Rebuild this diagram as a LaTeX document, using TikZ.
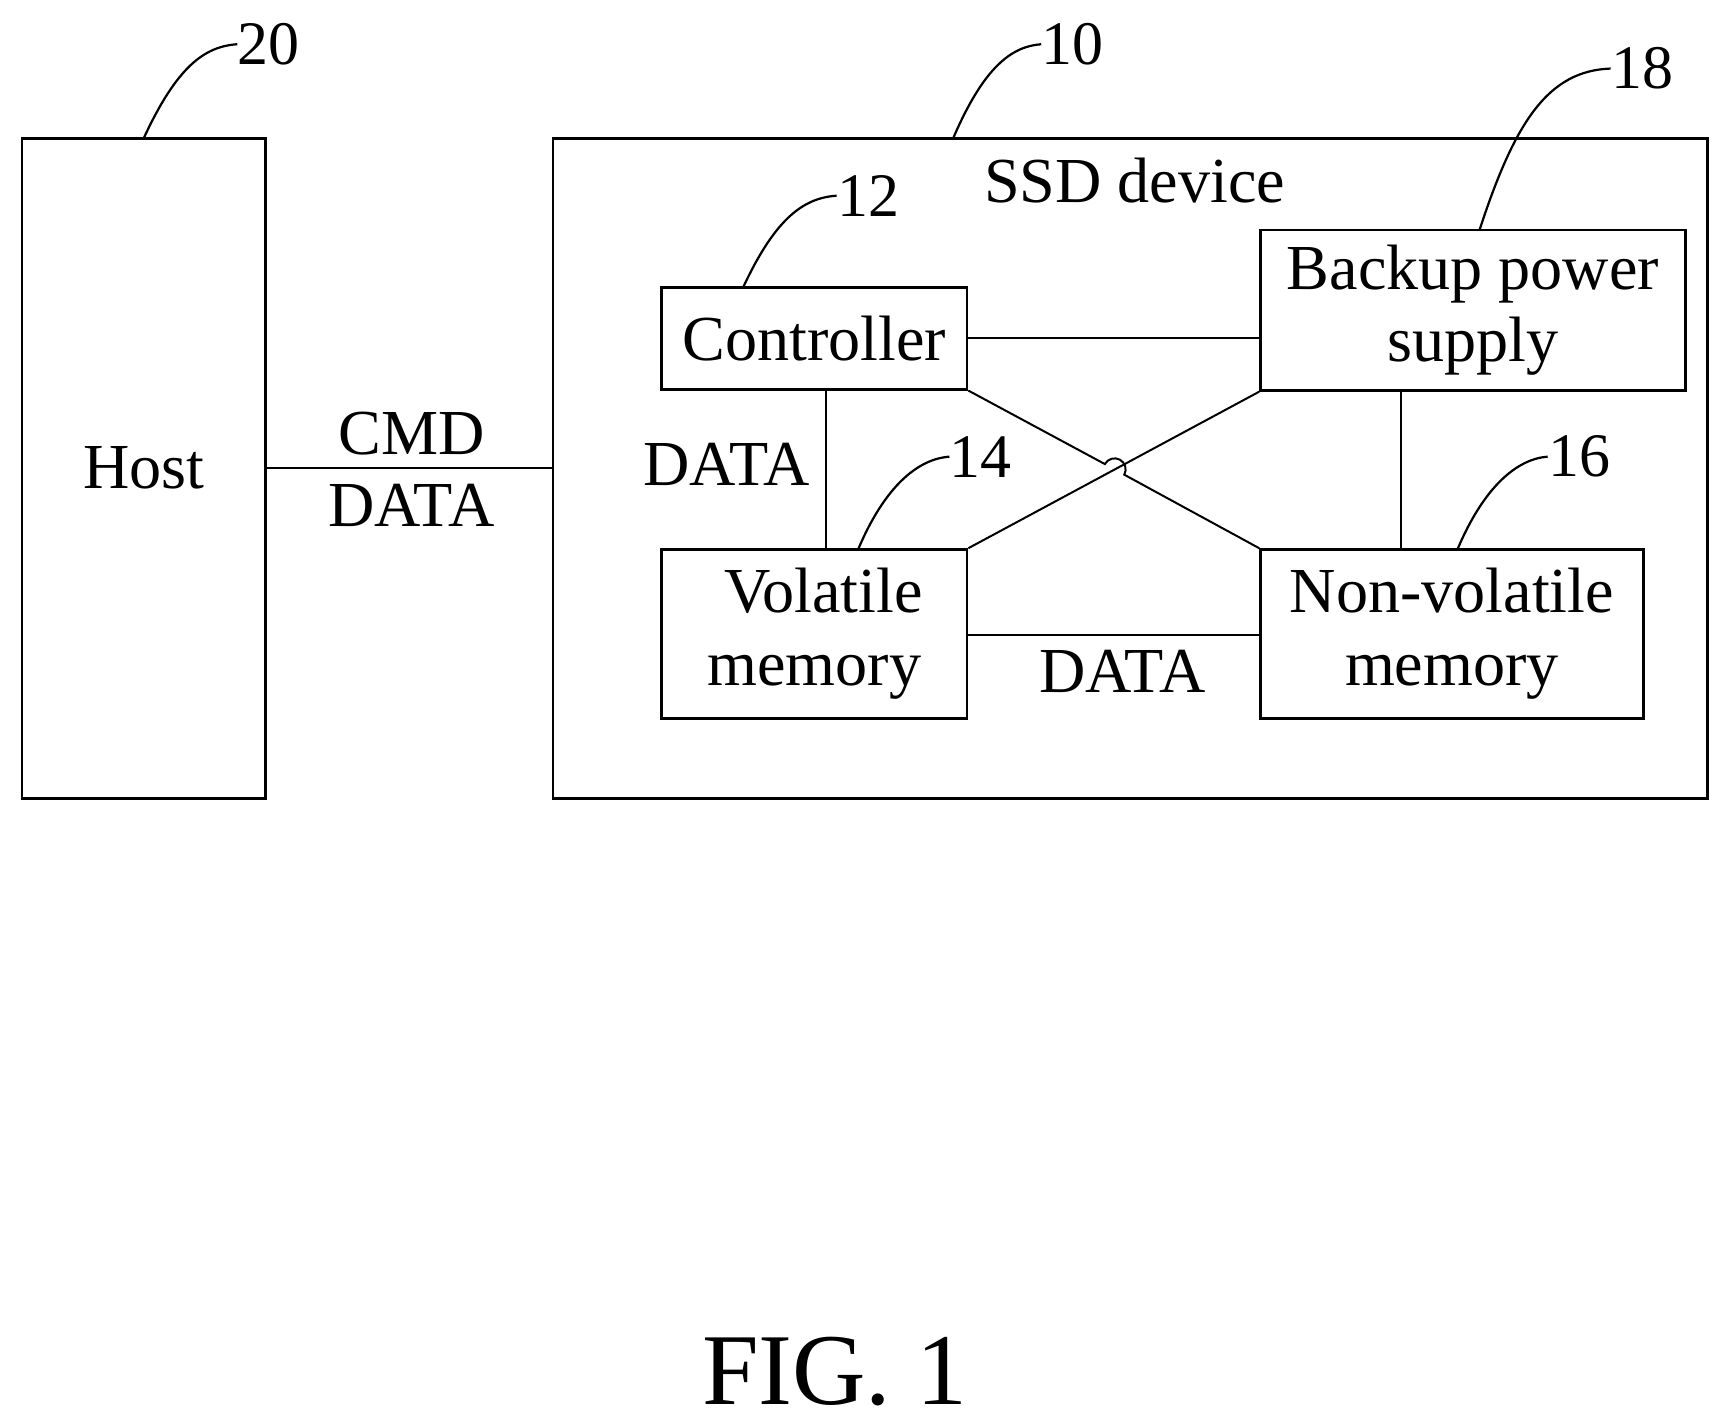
\documentclass[tikz,border=0pt]{standalone}
\usepackage{fontspec}
\setmainfont{Liberation Serif}
\begin{document}
\begin{tikzpicture}[x=0.5pt,y=-0.5pt,
  box/.style={draw,line width=1.2pt,inner sep=0pt,align=center,font=\fontsize{29}{33}\selectfont},
  txt/.style={font=\fontsize{29}{33}\selectfont,inner sep=0pt},
  num/.style={font=\fontsize{28}{30}\selectfont,inner sep=0pt},
  ln/.style={line width=0.9pt},
  lead/.style={line width=1pt}]
\useasboundingbox (0,0) rectangle (1560,1288);
\node[box,minimum width=110pt,minimum height=298.5pt] (host) at (130,423.5) {Host};
\node[box,minimum width=522pt,minimum height=298.5pt] (ssd) at (1022,423.5) {};
\node[txt] (ssdl) at (1026,163) {SSD device};
\node[box,minimum width=138pt,minimum height=46pt] (ctrl) at (736.5,306) {Controller};
\node[box,minimum width=192pt,minimum height=72.5pt] (bak) at (1332,280.5) {Backup power\\supply};
\node[box,minimum width=138pt,minimum height=76.5pt] (vol) at (736.5,573.5) {\hspace*{8pt}Volatile\\memory};
\node[box,minimum width=173pt,minimum height=76.5pt] (nv) at (1313,573.5) {Non-volatile\\memory};
% connectors
\draw[ln] (host.east) -- (ssd.west);
\node[txt] (cmd) at (372,392) {CMD};
\node[txt] (d1) at (372,457) {DATA};
\draw[ln] (ctrl.east) -- (ctrl.east -| bak.west);
\coordinate (cv) at (747,352);
\draw[ln] (cv) -- (cv |- vol.north);
\node[txt] (d2) at (657,420) {DATA};
\coordinate (bn) at (1267,353);
\draw[ln] (bn) -- (bn |- nv.north);
\draw[ln] (vol.east |- 0,574) -- (nv.west |- 0,574);
\node[txt] (d3) at (1015,607) {DATA};
\draw[ln] (vol.north east) -- (bak.south west);
\coordinate (h1) at (999.2,419.7);
\draw[ln] (ctrl.south east) -- (h1) arc[start angle=151.3,end angle=-28.7,radius=5pt] -- (nv.north west);
% leaders
\coordinate (l20) at (130,125); \node[num] (n20) at (243,40) {20};
\draw[lead] (l20) .. controls (160,60) and (185,42) .. (n20.west);
\coordinate (l10) at (862,125); \node[num] (n10) at (970,40) {10};
\draw[lead] (l10) .. controls (890,60) and (915,42) .. (n10.west);
\coordinate (l18) at (1338,208); \node[num] (n18) at (1485,62) {18};
\draw[lead] (l18) .. controls (1370,110) and (1400,64) .. (n18.west);
\coordinate (l12) at (672,260); \node[num] (n12) at (785,177) {12};
\draw[lead] (l12) .. controls (700,200) and (725,179) .. (n12.west);
\coordinate (l14) at (776,497); \node[num] (n14) at (887,413) {14};
\draw[lead] (l14) .. controls (800,440) and (830,415) .. (n14.west);
\coordinate (l16) at (1318,497); \node[num] (n16) at (1428,413) {16};
\draw[lead] (l16) .. controls (1342,440) and (1372,415) .. (n16.west);
\node[font=\fontsize{46}{50}\selectfont,inner sep=0pt] (fig) at (755,1240) {FIG. 1};
\end{tikzpicture}
\end{document}
